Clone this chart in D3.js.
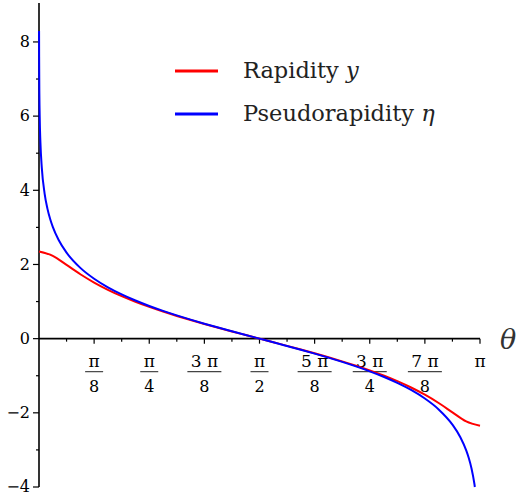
<!DOCTYPE html>
<html><head><meta charset="utf-8">
<script src="https://cdn.jsdelivr.net/npm/d3@7/dist/d3.min.js"></script>
<style>
body{margin:0;background:#fff;}
svg{display:block;}
svg text{font-family:"DejaVu Serif",serif;}
</style></head>
<body><svg id="c" width="519" height="495"></svg>
<script>
// Rapidity y(θ) sample points (θ in radians)
const thetaY = [0,0.0982,0.1963,0.2945,0.3927,0.4909,0.5890,0.6872,0.7854,0.8836,0.9817,1.0799,1.1781,1.2763,1.3744,1.4726,1.5708,1.6690,1.7671,1.8653,1.9635,2.0617,2.1598,2.2580,2.3562,2.4544,2.5525,2.6507,2.7489,2.8471,2.9452,3.0434,3.1416];
const rapidity = [2.351,2.233,1.988,1.736,1.512,1.317,1.146,0.994,0.856,0.730,0.612,0.501,0.395,0.293,0.194,0.097,0,-0.097,-0.194,-0.293,-0.395,-0.501,-0.612,-0.730,-0.856,-0.994,-1.146,-1.317,-1.512,-1.736,-1.988,-2.233,-2.351];
// Pseudorapidity η(θ) sample points
const thetaEta = [0.0005,0.001,0.002,0.005,0.01,0.02,0.04,0.06,0.08,0.0982,0.14,0.1963,0.2945,0.3927,0.4909,0.5890,0.6872,0.7854,0.8836,0.9817,1.0799,1.1781,1.2763,1.3744,1.4726,1.5708,1.6690,1.7671,1.8653,1.9635,2.0617,2.1598,2.2580,2.3562,2.4544,2.5525,2.6507,2.7489,2.8471,3.0016,2.9452,3.0434,3.0616,3.0816,3.1016,3.1050];
const pseudorapidity = [8.294,7.601,6.908,5.991,5.298,4.605,3.912,3.506,3.218,3.013,2.658,2.318,1.908,1.615,1.384,1.193,1.028,0.881,0.749,0.627,0.512,0.403,0.299,0.198,0.098,0,-0.098,-0.198,-0.299,-0.403,-0.512,-0.627,-0.749,-0.881,-1.028,-1.193,-1.384,-1.615,-1.908,-2.658,-2.318,-3.013,-3.218,-3.506,-3.912,-4.0];
const yTicks = [-4,-2,0,2,4,6,8];
const yMinor = [-3,-1,1,3,5,7];
const xTickNum = ["π","π","3 π","π","5 π","3 π","7 π","π"];
const xTickDen = ["8","4","8","2","8","4","8",""];
const xTickVal = [0.3927,0.7854,1.1781,1.5708,1.9635,2.3562,2.7489,3.1416];
const xMinorVal = [0.1963,0.5890,0.9817,1.3744,1.7671,2.1598,2.5525,2.9452];
const seriesNames = ["Rapidity ","Pseudorapidity "];
const seriesSym = ["y","η"];
const seriesColors = ["#ff0000","#0000ff"];

const svg = d3.select("#c");
const x = d3.scaleLinear().domain([0, 3.1416]).range([39, 480]);
const y = d3.scaleLinear().domain([-4, 9.05]).range([487, 3]);

const etaPts = thetaEta.map((t,i)=>[t,pseudorapidity[i]]).sort((a,b)=>a[0]-b[0]);
const yPts = thetaY.map((t,i)=>[t,rapidity[i]]);

const line = d3.line().x(d=>x(d[0])).y(d=>y(d[1])).curve(d3.curveMonotoneX);

// axes
const g = svg.append("g");
g.append("line").attr("x1",x(0)).attr("x2",x(0)).attr("y1",y(9.05)).attr("y2",y(-4)).attr("stroke","#000").attr("stroke-width",1.6);
g.append("line").attr("x1",x(0)).attr("x2",x(3.1416)).attr("y1",y(0)).attr("y2",y(0)).attr("stroke","#000").attr("stroke-width",1.6);

yTicks.forEach(v=>{
  g.append("line").attr("x1",x(0)-6).attr("x2",x(0)).attr("y1",y(v)).attr("y2",y(v)).attr("stroke","#000").attr("stroke-width",1.2);
  g.append("text").attr("x",x(0)-9).attr("y",y(v)).attr("dy","0.33em").attr("text-anchor","end").attr("font-size",16).text(v<0?"\u2212"+(-v):String(v));
});
yMinor.forEach(v=>{
  g.append("line").attr("x1",x(0)-3).attr("x2",x(0)).attr("y1",y(v)).attr("y2",y(v)).attr("stroke","#000").attr("stroke-width",1.2);
});
xTickVal.forEach((v,i)=>{
  g.append("line").attr("x1",x(v)).attr("x2",x(v)).attr("y1",y(0)).attr("y2",y(0)+5).attr("stroke","#000").attr("stroke-width",1.2);
  const cx = x(v);
  g.append("text").attr("x",cx).attr("y",y(0)+28).attr("text-anchor","middle").attr("font-size",17).text(xTickNum[i]);
  if (xTickDen[i]) {
    const w = xTickNum[i].length>1 ? 34 : 18;
    g.append("line").attr("x1",cx-w/2).attr("x2",cx+w/2).attr("y1",y(0)+33).attr("y2",y(0)+33).attr("stroke","#444").attr("stroke-width",1.2);
    g.append("text").attr("x",cx).attr("y",y(0)+53).attr("text-anchor","middle").attr("font-size",16).text(xTickDen[i]);
  }
});
xMinorVal.forEach(v=>{
  g.append("line").attr("x1",x(v)).attr("x2",x(v)).attr("y1",y(0)).attr("y2",y(0)+3).attr("stroke","#000").attr("stroke-width",1.2);
});
svg.append("text").attr("x",500).attr("y",y(0)+10).attr("font-size",27).attr("font-style","italic").attr("fill","#333").text("θ");

// curves
svg.append("path").datum(yPts).attr("d",line).attr("fill","none").attr("stroke",seriesColors[0]).attr("stroke-width",2);
svg.append("path").datum(etaPts).attr("d",line).attr("fill","none").attr("stroke",seriesColors[1]).attr("stroke-width",2);

// legend
const legY = [71,114];
seriesNames.forEach((n,i)=>{
  svg.append("line").attr("x1",175).attr("x2",218).attr("y1",legY[i]).attr("y2",legY[i]).attr("stroke",seriesColors[i]).attr("stroke-width",3);
  const t = svg.append("text").attr("x",243).attr("y",legY[i]+7).attr("font-size",22.5).attr("fill","#222");
  t.append("tspan").text(n);
  t.append("tspan").attr("font-style","italic").text(seriesSym[i]);
});
</script></body></html>
